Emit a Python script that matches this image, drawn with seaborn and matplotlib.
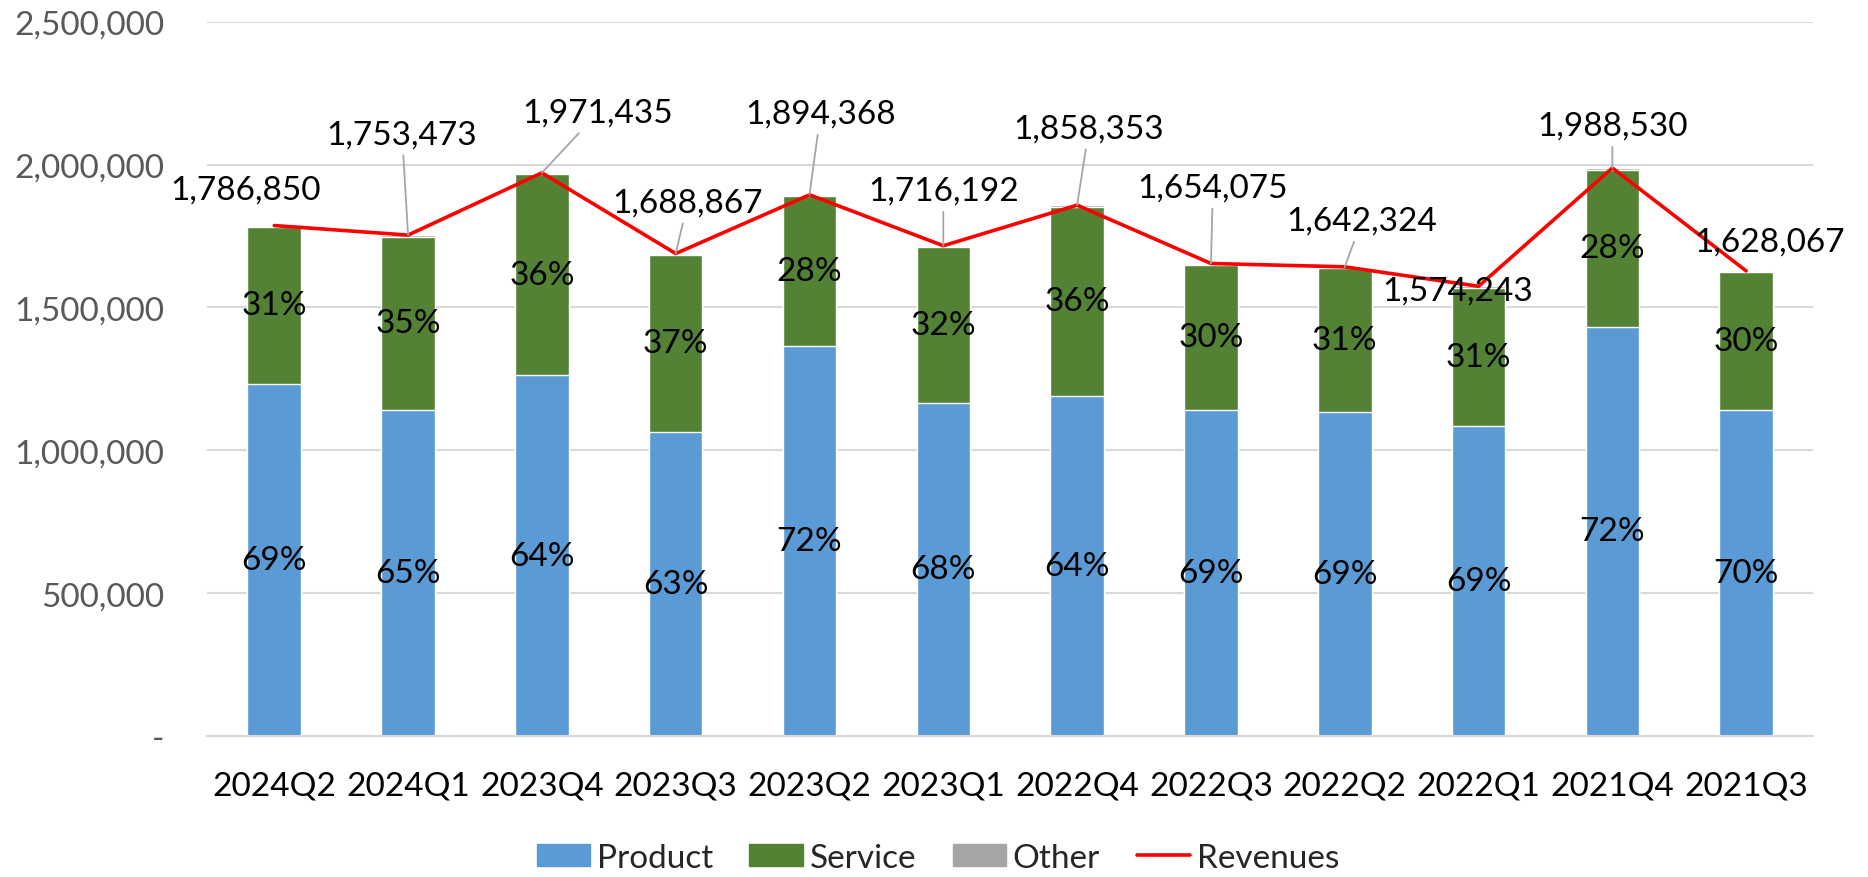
import numpy as np
import pandas as pd
import matplotlib
import matplotlib.pyplot as plt
matplotlib.use('Agg')
import seaborn as sns

quarters = ['2024Q2', '2024Q1', '2023Q4', '2023Q3', '2023Q2', '2023Q1',
            '2022Q4', '2022Q3', '2022Q2', '2022Q1', '2021Q4', '2021Q3']
product = [1233000, 1140000, 1262000, 1064000, 1364000, 1167000,
           1189000, 1141000, 1133000, 1086000, 1432000, 1140000]
service = [549000, 608000, 704000, 620000, 525000, 544000,
           664000, 508000, 504000, 483000, 551000, 483000]
other = [5000, 5000, 5000, 5000, 5000, 5000,
         5000, 5000, 5000, 5000, 5000, 5000]
revenues = [1786850, 1753473, 1971435, 1688867, 1894368, 1716192,
            1858353, 1654075, 1642324, 1574243, 1988530, 1628067]
product_pct = ['69%', '65%', '64%', '63%', '72%', '68%', '64%', '69%', '69%', '69%', '72%', '70%']
service_pct = ['31%', '35%', '36%', '37%', '28%', '32%', '36%', '30%', '31%', '31%', '28%', '30%']

# label offsets (pixels) for the revenue labels, and whether a leader line is drawn
label_dx = [-29, -6, 56, 12, 11, 0, 12, 2, 17, -21, 0, 23]
label_dy = [36, 101, 60, 51, 81, 55, 77, 76, 46, -4, 42, 29]
leader = [False, True, True, True, True, True, True, True, True, False, True, False]

C_PRODUCT = '#5B9BD5'
C_SERVICE = '#548235'
C_OTHER = '#A5A5A5'
C_REV = '#FF0000'

sns.set_theme(style='white')
plt.rcParams['font.family'] = ['Lato', 'DejaVu Sans']

df = pd.DataFrame({'quarter': quarters, 'product': product, 'service': service,
                   'other': other, 'revenues': revenues})
df['ps'] = df['product'] + df['service']
df['pso'] = df['ps'] + df['other']

fig = plt.figure(figsize=(18.68, 8.78), dpi=100)
ax = fig.add_axes([0.111, 0.1606, 0.8596, 0.8134])

sns.barplot(data=df, x='quarter', y='pso', color=C_OTHER, width=0.4, ax=ax, saturation=1)
sns.barplot(data=df, x='quarter', y='ps', color=C_SERVICE, width=0.4, ax=ax, saturation=1)
sns.barplot(data=df, x='quarter', y='product', color=C_PRODUCT, width=0.4, ax=ax, saturation=1)
sns.lineplot(data=df, x='quarter', y='revenues', color=C_REV, lw=2.6, sort=False, ax=ax)

fs = 24
for i in range(len(quarters)):
    ax.text(i, product[i] / 2, product_pct[i], ha='center', va='center', fontsize=fs, color='black')
    ax.text(i, product[i] + service[i] / 2, service_pct[i], ha='center', va='center',
            fontsize=fs, color='black')
    props = dict(arrowstyle='-', color='#A6A6A6', lw=1.3, shrinkA=2, shrinkB=0) if leader[i] else None
    ax.annotate(f'{revenues[i]:,}', xy=(i, revenues[i]), xytext=(label_dx[i], label_dy[i]),
                textcoords='offset pixels', ha='center', va='center', fontsize=fs,
                color='black', arrowprops=props)

ax.set_ylim(0, 2500000)
ax.set_xlim(-0.5, len(quarters) - 0.5)
ticks = np.arange(0, 2500001, 500000)
ax.set_yticks(ticks)
ax.set_yticklabels(['-'] + [f'{t:,}' for t in ticks[1:]], fontsize=fs, color='#595959')
ax.tick_params(axis='y', length=0, pad=31)
ax.tick_params(axis='x', length=0, pad=25, labelsize=fs, labelcolor='black')
ax.grid(axis='y', color='#D9D9D9', lw=1.5)
ax.set_axisbelow(True)
for s in ['left', 'right', 'top']:
    ax.spines[s].set_visible(False)
ax.spines['bottom'].set_color('#D9D9D9')
ax.spines['bottom'].set_linewidth(1.5)
ax.set_xlabel('')
ax.set_ylabel('')

handles = [plt.Rectangle((0, 0), 1, 1, color=C_PRODUCT),
           plt.Rectangle((0, 0), 1, 1, color=C_SERVICE),
           plt.Rectangle((0, 0), 1, 1, color=C_OTHER),
           plt.Line2D([0], [0], color=C_REV, lw=2.6)]
fig.legend(handles, ['Product', 'Service', 'Other', 'Revenues'], loc='center',
           bbox_to_anchor=(0.502, 0.022), ncol=4, frameon=False, fontsize=fs,
           handlelength=1.6, handleheight=0.65, handletextpad=0.2, columnspacing=1.1)

fig.savefig('out.png', dpi=100)
